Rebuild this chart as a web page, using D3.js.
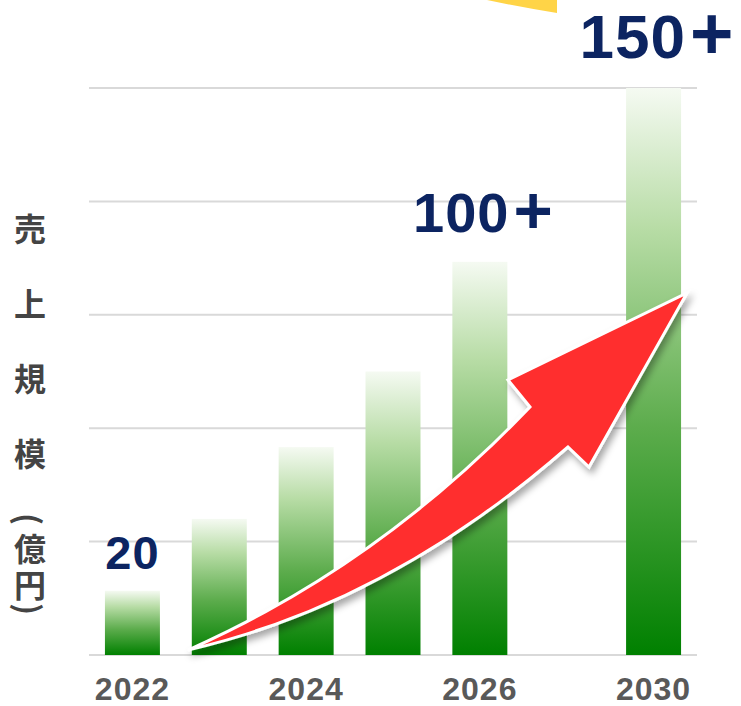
<!DOCTYPE html>
<html>
<head>
<meta charset="utf-8">
<script src="https://cdn.jsdelivr.net/npm/d3@7"></script>
<style>
  body { margin: 0; background: #fff; }
</style>
</head>
<body>
<script>
// categories (one empty slot between 2026 and 2030)
const years = ['2022', '2023', '2024', '2025', '2026', 'gap', '2030']
const sales = [17, 36, 55, 75, 104, null, 150]
const shownYears = ['2022', '2024', '2026', '2030']
const ticks = [0, 30, 60, 90, 120, 150]
const callouts = [
    { year: '2022', num: '20', plus: '', size: 47 },
    { year: '2026', num: '100', plus: '+', size: 56 },
    { year: '2030', num: '150', plus: '+', size: 62 }
]
const titleChars = ['売', '上', '規', '模']
const unitChars = ['(', '億', '円', ')']

const w = 741
const h = 706

const svg = d3.select('body')
    .append('svg')
    .attr('width', w)
    .attr('height', h)

const defs = svg.append('defs')

// bar gradient
const grad = defs.append('linearGradient')
    .attr('id', 'barGrad')
    .attr('x1', 0).attr('y1', 0).attr('x2', 0).attr('y2', 1)
grad.selectAll('stop')
    .data([[0, '#f5faf2'], [0.25, '#b7dca5'], [0.6, '#5cac4c'], [1, '#008000']])
    .enter().append('stop')
    .attr('offset', d => d[0])
    .attr('stop-color', d => d[1])

// arrow shadow
defs.append('filter')
    .attr('id', 'shadow')
    .attr('x', '-20%').attr('y', '-20%').attr('width', '140%').attr('height', '140%')
    .append('feDropShadow')
    .attr('dx', 3).attr('dy', 5).attr('stdDeviation', 3.5)
    .attr('flood-color', '#000').attr('flood-opacity', 0.35)

// scales
const x = d3.scaleBand()
    .domain(years)
    .range([89, 697])
    .paddingInner(0.367)
    .paddingOuter(0.1835)
const y = d3.scaleLinear()
    .domain([0, 150])
    .range([655, 88])

// yellow corner shape at the top
svg.append('path')
    .attr('d', 'M487,0 L557,0 L557,13 Q520,7 487,0 Z')
    .attr('fill', '#ffd447')

// gridlines
svg.append('g')
    .selectAll('line')
    .data(ticks)
    .enter().append('line')
    .attr('x1', 89).attr('x2', 697)
    .attr('y1', d => y(d)).attr('y2', d => y(d))
    .attr('stroke', '#d9d9d9')
    .attr('stroke-width', 2)

// bars
svg.append('g')
    .selectAll('rect')
    .data(years.map((d, i) => ({ year: d, v: sales[i] })).filter(d => d.v != null))
    .enter().append('rect')
    .attr('x', d => x(d.year))
    .attr('width', x.bandwidth())
    .attr('y', d => y(d.v))
    .attr('height', d => y(0) - y(d.v))
    .attr('fill', 'url(#barGrad)')

// year labels
svg.append('g')
    .selectAll('text')
    .data(shownYears)
    .enter().append('text')
    .attr('x', d => x(d) + x.bandwidth() / 2)
    .attr('y', 700)
    .attr('text-anchor', 'middle')
    .style('font-family', '"Liberation Sans", Arial, sans-serif')
    .style('font-weight', 'bold')
    .style('font-size', '32px')
    .style('letter-spacing', '1px')
    .attr('fill', '#595959')
    .text(d => d)

// value callouts
const labels = svg.append('g')
    .selectAll('text')
    .data(callouts)
    .enter().append('text')
    .attr('x', d => x(d.year) + x.bandwidth() / 2 + (d.plus ? 3 : 0))
    .attr('y', d => y(sales[years.indexOf(d.year)]) - (d.plus ? 30 : 22))
    .attr('text-anchor', 'middle')
    .style('font-family', '"Liberation Sans", Arial, sans-serif')
    .style('font-weight', 'bold')
    .style('font-size', d => d.size + 'px')
    .attr('fill', '#0c2461')
labels.append('tspan')
    .style('letter-spacing', '1px')
    .text(d => d.num)
labels.append('tspan')
    .attr('dx', 4)
    .style('font-size', d => (d.size * 1.2) + 'px')
    .attr('dy', d => d.size * 0.02)
    .text(d => d.plus)

// vertical axis title
const title = svg.append('g')
    .style('font-family', '"Noto Sans CJK JP", sans-serif')
    .style('font-weight', 'bold')
    .style('font-size', '32px')
    .attr('fill', '#444')
    .attr('text-anchor', 'middle')
title.selectAll('.t')
    .data(titleChars)
    .enter().append('text')
    .attr('class', 't')
    .attr('x', 30)
    .attr('y', (d, i) => 227 + i * 75)
    .attr('dominant-baseline', 'central')
    .text(d => d)
const unitY = [519, 547, 583, 609]
title.selectAll('.u')
    .data(unitChars)
    .enter().append('text')
    .attr('class', 'u')
    .attr('dominant-baseline', 'central')
    .attr('transform', (d, i) => (d === '(' || d === ')')
        ? `translate(30,${unitY[i]}) rotate(90)`
        : `translate(30,${unitY[i]})`)
    .text(d => d)

// red trend arrow
const arrowPath = 'M188,650 Q378,566 530,407 L508,380 L687,293 L589,467 L568,447 Q389,604 188,650 Z'
svg.append('path')
    .attr('d', arrowPath)
    .attr('fill', '#ff2e2e')
    .attr('stroke', '#fff')
    .attr('stroke-width', 3)
    .attr('stroke-linejoin', 'miter')
    .attr('filter', 'url(#shadow)')
</script>
</body>
</html>
